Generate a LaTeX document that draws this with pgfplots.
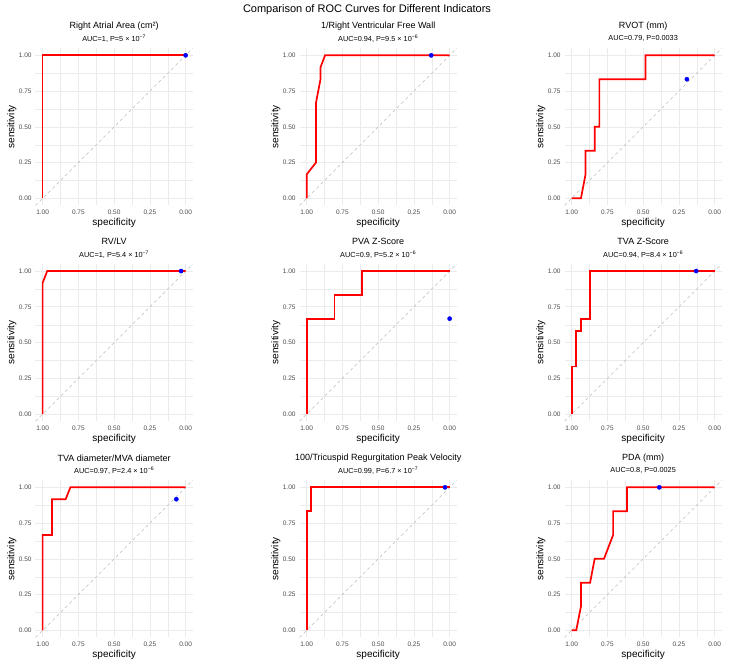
\documentclass[border=0pt]{standalone}
\usepackage{fontspec}
\setmainfont{Liberation Sans}
\usepackage{pgfplots}
\pgfplotsset{compat=1.18}

\definecolor{gridgray}{RGB}{235,235,235}
\definecolor{ticktext}{RGB}{77,77,77}
\definecolor{refgray}{RGB}{190,190,190}
\definecolor{rocred}{RGB}{255,0,0}
\definecolor{cutblue}{RGB}{0,0,255}

\newcommand{\ticksize}{\fontsize{6.5}{7}\selectfont}
\newcommand{\labsize}{\fontsize{10}{11}\selectfont}
\newcommand{\titsize}{\fontsize{9}{10}\selectfont}
\newcommand{\subsize}{\fontsize{7.3}{8}\selectfont}
\newcommand{\pexp}[1]{\textsuperscript{−#1}}

\pgfplotsset{
  rocpanel/.style={
    scale only axis, width=157.3pt, height=157.3pt,
    anchor=south west,
    x dir=reverse,
    xmin=-0.05, xmax=1.05, ymin=-0.05, ymax=1.05,
    axis line style={draw=none},
    major tick length=0pt, minor tick length=0pt,
    xtick={0,0.25,0.5,0.75,1}, ytick={0,0.25,0.5,0.75,1},
    xticklabels={0.00,0.25,0.50,0.75,1.00},
    yticklabels={0.00,0.25,0.50,0.75,1.00},
    minor xtick={0.125,0.375,0.625,0.875},
    minor ytick={0.125,0.375,0.625,0.875},
    grid=both,
    major grid style={gridgray, line width=0.6pt},
    minor grid style={gridgray, line width=0.3pt},
    /pgf/number format/assume math mode=true,
    xticklabel style={font=\ticksize, text=ticktext, anchor=center, inner sep=0pt, yshift=-7.2pt},
    yticklabel style={font=\ticksize, text=ticktext, anchor=east, inner sep=0pt, xshift=-3.8pt},
  },
  refline/.style={refgray, line width=0.6pt, dash pattern=on 3pt off 3pt},
  rocline/.style={rocred, line width=1.7pt, line join=miter},
  cutpoint/.style={only marks, mark=*, mark size=2.1pt, mark options={draw=cutblue, fill=cutblue}},
}

% #1,#2: lower-left corner of the panel; #3 title; #4 subtitle;
% #5 ROC coordinates (specificity, sensitivity); #6 cut-off point
\newcommand{\rocpanel}[6]{%
  \begin{axis}[rocpanel, at={(#1pt,#2pt)}]
    \addplot[refline] coordinates {(1.05,-0.05) (-0.05,1.05)};
    \addplot[rocline] coordinates {#5};
    \addplot[cutpoint] coordinates {#6};
  \end{axis}
  \node[font=\titsize] at (#1pt+78.65pt, #2pt+157.3pt+22.2pt) {#3};
  \node[font=\subsize] at (#1pt+78.65pt, #2pt+157.3pt+9.3pt) {#4};
  \node[font=\labsize] at (#1pt+78.65pt, #2pt-17.5pt) {specificity};
  \node[font=\labsize, rotate=90] at (#1pt-23.8pt, #2pt+78.65pt) {sensitivity};
}

\begin{document}
\begin{tikzpicture}
\useasboundingbox (0,0) rectangle (734pt,666pt);
\fill[white] (0,0) rectangle (734pt,666pt);

\node[font=\fontsize{11}{12}\selectfont] at (367pt,656pt) {Comparison of ROC Curves for Different Indicators};

% Row 1
\rocpanel{35.5}{460.5}{Right Atrial Area (cm²)}{AUC=1, P=5 × 10\pexp{7}}
  {(1,0) (1,1) (0,1)}
  {(0,1)}
\rocpanel{299.5}{460.5}{1/Right Ventricular Free Wall}{AUC=0.94, P=9.5 × 10\pexp{6}}
  {(1,0) (1,0.167) (0.935,0.25) (0.935,0.667) (0.903,0.833) (0.903,0.917) (0.871,1) (0,1)}
  {(0.129,1)}
\rocpanel{564.5}{460.5}{RVOT (mm)}{AUC=0.79, P=0.0033}
  {(1,0) (0.935,0) (0.903,0.167) (0.903,0.333) (0.839,0.333) (0.839,0.5) (0.806,0.5) (0.806,0.833) (0.484,0.833) (0.484,1) (0,1)}
  {(0.194,0.833)}

% Row 2
\rocpanel{35.5}{244.8}{RV/LV}{AUC=1, P=5.4 × 10\pexp{7}}
  {(1,0) (1,0.917) (0.968,1) (0,1)}
  {(0.032,1)}
\rocpanel{299.5}{244.8}{PVA Z-Score}{AUC=0.9, P=5.2 × 10\pexp{6}}
  {(1,0) (1,0.667) (0.806,0.667) (0.806,0.833) (0.613,0.833) (0.613,1) (0,1)}
  {(0,0.667)}
\rocpanel{564.5}{244.8}{TVA Z-Score}{AUC=0.94, P=8.4 × 10\pexp{6}}
  {(1,0) (1,0.333) (0.968,0.333) (0.968,0.583) (0.935,0.583) (0.935,0.667) (0.871,0.667) (0.871,1) (0,1)}
  {(0.129,1)}

% Row 3
\rocpanel{35.5}{28.5}{TVA diameter/MVA diameter}{AUC=0.97, P=2.4 × 10\pexp{6}}
  {(1,0) (1,0.667) (0.935,0.667) (0.935,0.917) (0.839,0.917) (0.806,1) (0,1)}
  {(0.065,0.917)}
\rocpanel{299.5}{28.5}{100/Tricuspid Regurgitation Peak Velocity}{AUC=0.99, P=6.7 × 10\pexp{7}}
  {(1,0) (1,0.833) (0.968,0.833) (0.968,1) (0,1)}
  {(0.032,1)}
\rocpanel{564.5}{28.5}{PDA (mm)}{AUC=0.8, P=0.0025}
  {(1,0) (0.968,0) (0.935,0.167) (0.935,0.333) (0.871,0.333) (0.839,0.5) (0.774,0.5) (0.71,0.667) (0.71,0.833) (0.613,0.833) (0.613,1) (0,1)}
  {(0.387,1)}
\end{tikzpicture}
\end{document}
